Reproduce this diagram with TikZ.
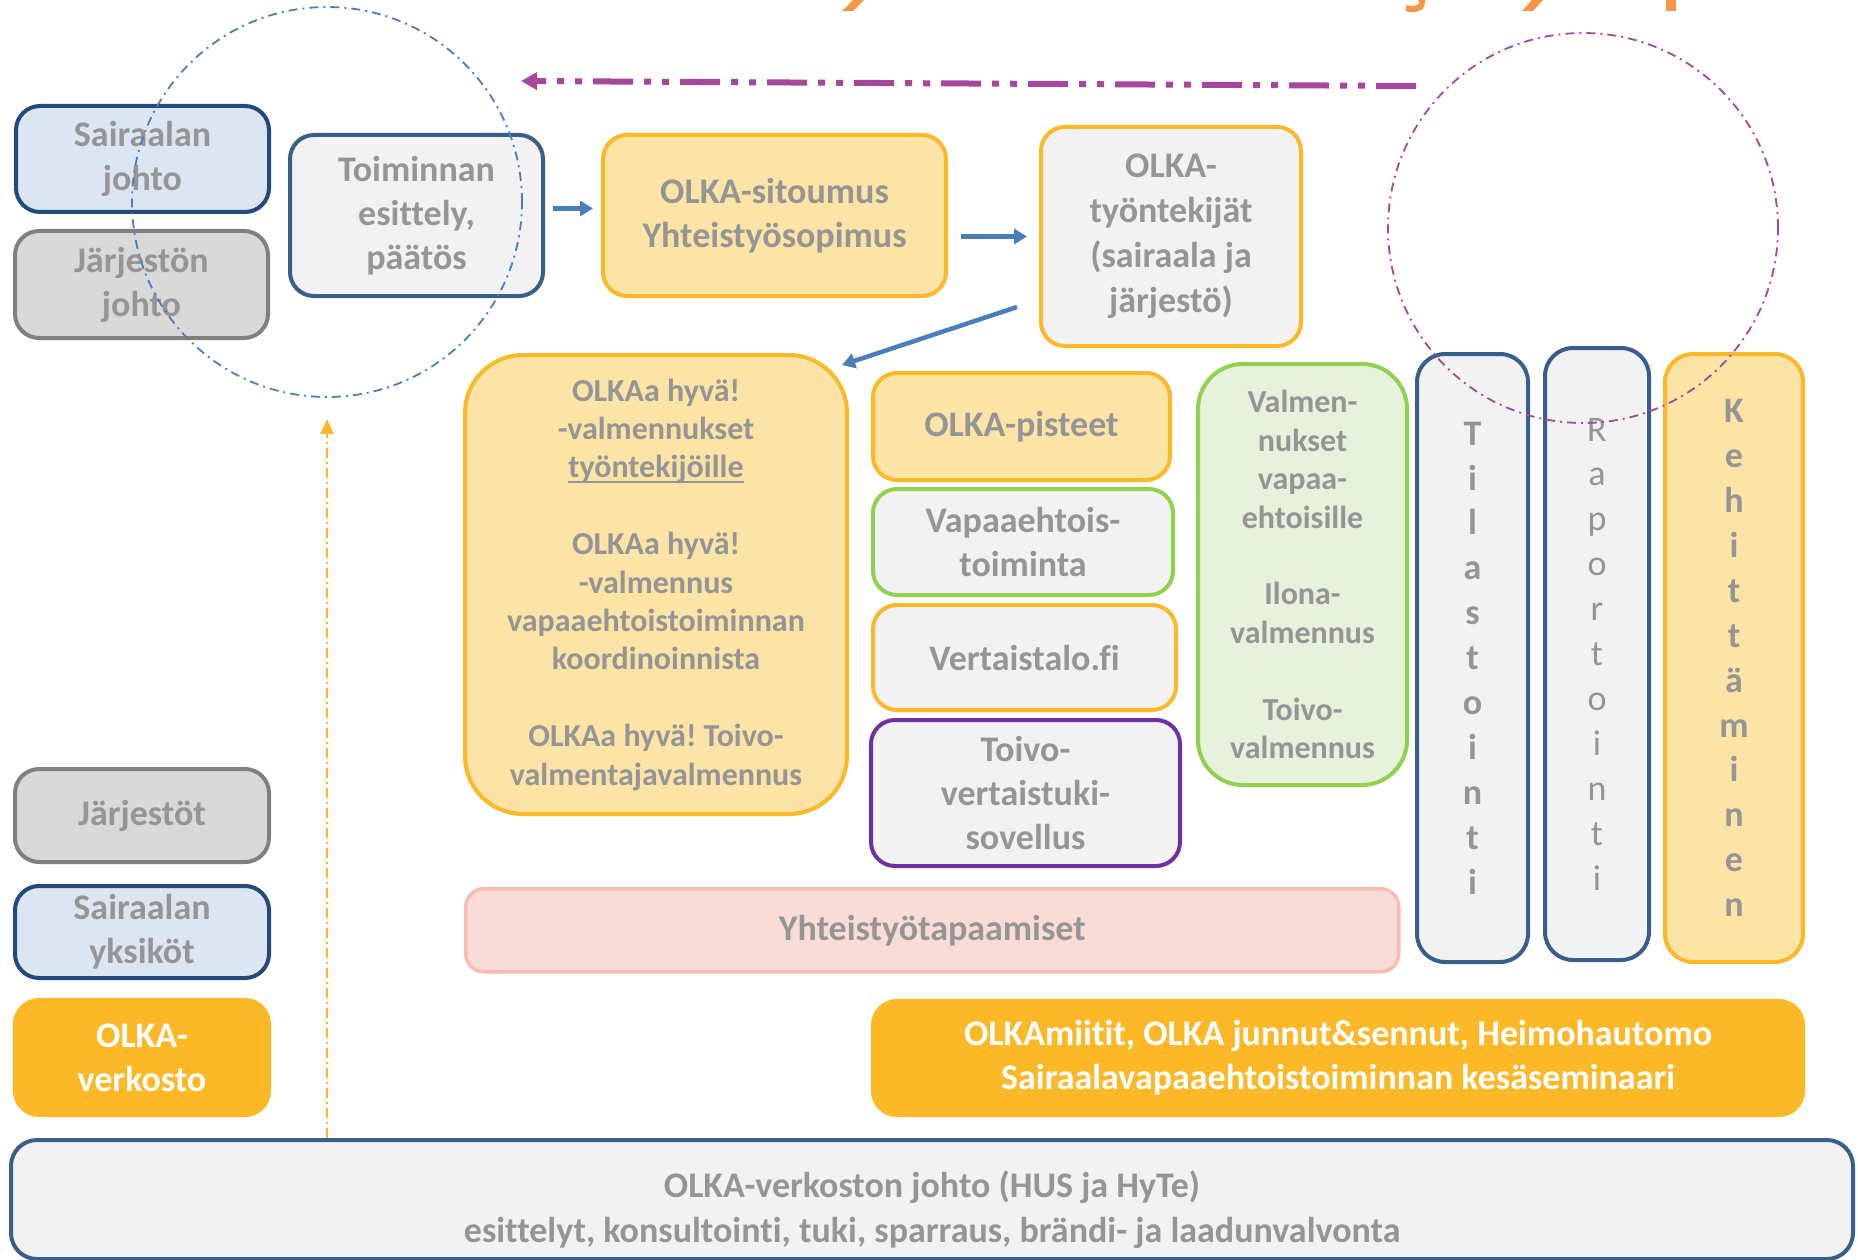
\documentclass[tikz,border=0pt]{standalone}
\usepackage{fontspec}
\setmainfont{Carlito}[Ligatures=NoCommon]
\usetikzlibrary{arrows.meta,calc}
\definecolor{txtgray}{HTML}{959595}
\definecolor{dblue}{HTML}{234A7C}
\definecolor{mblue}{HTML}{3A5E8C}
\definecolor{lblue}{HTML}{DCE6F2}
\definecolor{lgray}{HTML}{F2F2F2}
\definecolor{mgray}{HTML}{D9D9D9}
\definecolor{dgray}{HTML}{808080}
\definecolor{orng}{HTML}{FDB827}
\definecolor{lorng}{HTML}{FCE3A6}
\definecolor{grn}{HTML}{92D050}
\definecolor{lgrn}{HTML}{E6F2DC}
\definecolor{purp}{HTML}{7030A0}
\definecolor{pinkfill}{HTML}{FADCD6}
\definecolor{salmon}{HTML}{F8BCB2}
\definecolor{arrblue}{HTML}{4A7EBB}
\definecolor{mag}{HTML}{A5489B}
\definecolor{ttlorng}{HTML}{F79646}
\newcommand\myul[1]{\setbox0=\hbox{#1}\rlap{\rule[-5pt]{\wd0}{2pt}}\box0}
\frenchspacing
\begin{document}
\begin{tikzpicture}[x=1pt,y=-1pt,
  box/.style={draw, line width=4pt, rounded corners=24pt, align=center, inner sep=0pt,
    anchor=north west, text=txtgray, font=\bfseries\fontsize{36}{44}\selectfont},
  smalltxt/.style={font=\bfseries\fontsize{32}{38.4}\selectfont},
  vtxt/.style={font=\bfseries\fontsize{36}{44.9}\selectfont},
  bluebox/.style={box, fill=lblue, draw=dblue},
  graybox/.style={box, fill=mgray, draw=dgray},
  greyblue/.style={box, fill=lgray, draw=mblue},
  orbox/.style={box, fill=lorng, draw=orng},
  greyor/.style={box, fill=lgray, draw=orng},
  greygrn/.style={box, fill=lgray, draw=grn},
  solidor/.style={box, fill=orng, draw=orng, text=white},
  barrow/.style={draw=arrblue, line width=4.5pt, -{Triangle[length=13pt,width=15pt]}},
  oarrow/.style={draw=orng, line width=2pt, dash pattern=on 10pt off 4pt on 2pt off 4pt, -{Triangle[length=15pt,width=13pt]}},
  ttl/.style={ttlorng}
]
\useasboundingbox[fill=white] (0,0) rectangle (1858,1260);

% title fragments (cut off at the top)
\fill[ttl] (853,0) -- (864,0) -- (853,11) -- (842,11) -- cycle;
\draw[ttl, line width=6pt] (1422,0) -- (1422,3) .. controls (1422,9) and (1414,10) .. (1406,8);
\fill[ttl] (1532,0) -- (1543,0) -- (1533,11) -- (1522,11) -- cycle;
\fill[ttl] (1666,0) rectangle (1676,11);

% left column
\node[bluebox, minimum width=253, minimum height=106] (sj) at (14,104) {Sairaalan\\johto};
\node[graybox, minimum width=253, minimum height=107] (jj) at (13,229) {Järjestön\\johto};
\node[graybox, minimum width=254, minimum height=93] (jar) at (13,767) {Järjestöt};
\node[bluebox, minimum width=254, minimum height=92] (syk) at (13,884) {Sairaalan\\yksiköt};
\node[solidor, minimum width=254, minimum height=115] (verk) at (13,998) {OLKA-\\verkosto};

% top flow
\node[greyblue, minimum width=253, minimum height=161] (toim) at (288,133) {Toiminnan\\esittely,\\päätös};
\node[orbox, minimum width=343, minimum height=161] (sit) at (601,133) {OLKA-sitoumus\\Yhteistyösopimus};
\node[greyor, font=\bfseries\fontsize{36}{45}\selectfont, minimum width=260, minimum height=219] (tw) at (1039,125) {OLKA-\\työntekijät\\(sairaala ja\\järjestö)};

% middle
\node[orbox, smalltxt, rounded corners=58pt, minimum width=382, minimum height=459] (olka) at (463,353)
  {OLKAa hyvä!\\-valmennukset\\\myul{työntekijöille}\\[38.4pt]OLKAa hyvä!\\-valmennus\\vapaaehtoistoiminnan\\koordinoinnista\\[38.4pt]OLKAa hyvä! Toivo-\\valmentajavalmennus};
\node[orbox, minimum width=297, minimum height=107] (pist) at (871,371) {OLKA-pisteet};
\node[greygrn, minimum width=300, minimum height=106] (vap) at (871,487) {Vapaaehtois-\\toiminta};
\node[greyor, minimum width=303, minimum height=105] (vert) at (871,603) {Vertaistalo.fi};
\node[box, fill=lgray, draw=purp, minimum width=309, minimum height=146] (toivo) at (869,718) {Toivo-\\vertaistuki-\\sovellus};
\node[box, smalltxt, fill=lgrn, draw=grn, rounded corners=45pt, minimum width=209, minimum height=421] (grnb) at (1196,362)
  {Valmen-\\nukset\\vapaa-\\ehtoisille\\[38.4pt]Ilona-\\valmennus\\[38.4pt]Toivo-\\valmennus};

% vertical boxes
\node[greyblue, vtxt, rounded corners=28pt, minimum width=111, minimum height=608] (til) at (1415,352)
  {T\\i\\l\\a\\s\\t\\o\\i\\n\\t\\i};
\node[greyblue, vtxt, font=\mdseries\fontsize{36}{44.9}\selectfont, rounded corners=28pt, minimum width=104, minimum height=612] (rap) at (1543,346)
  {R\\a\\p\\o\\r\\t\\o\\i\\n\\t\\i};
\node[orbox, vtxt, rounded corners=28pt, minimum width=138, minimum height=608] (keh) at (1663,352)
  {K\\e\\h\\i\\t\\t\\ä\\m\\i\\n\\e\\n};

% lower band
\node[box, fill=pinkfill, draw=salmon, line width=3.5pt, rounded corners=18pt, minimum width=933, minimum height=83] (yht) at (464,887) {Yhteistyötapaamiset};
\node[solidor, minimum width=930, minimum height=114] (miit) at (871,999)
  {OLKAmiitit, OLKA junnut\&sennut, Heimohautomo\\Sairaalavapaaehtoistoiminnan kesäseminaari};
\node[greyblue, rounded corners=26pt, minimum width=1842, minimum height=119] (johto) at (9,1138) {};
\node[align=center, text=txtgray, font=\bfseries\fontsize{36}{45}\selectfont] (johtotxt) at ([yshift=-10pt]johto.center)
  {OLKA-verkoston johto (HUS ja HyTe)\\esittelyt, konsultointi, tuki, sparraus, brändi- ja laadunvalvonta};

% circles
\node[circle, draw=arrblue, line width=1.8pt, dash pattern=on 9pt off 5pt on 2pt off 5pt, minimum size=390, inner sep=0pt] (c1) at (327,202) {};
\node[circle, draw=mag, line width=1.8pt, dash pattern=on 9pt off 5pt on 2pt off 5pt, minimum size=390, inner sep=0pt] (c2) at (1583,228) {};

% connectors
\draw[barrow] ([xshift=8pt,yshift=7pt]toim.east) -- ([xshift=-8pt,yshift=7pt]sit.west);
\draw[barrow] ($(sit.east |- tw.west)+(13,0)$) -- ([xshift=-12pt]tw.west);
\draw[barrow] ([xshift=-22pt,yshift=41pt]tw.south west) -- ([xshift=-7pt,yshift=-12pt]olka.north east);
\draw[oarrow] (c1.south |- johto.north) -- ([yshift=-21pt]c1.south);
\coordinate (pr) at (1416,86);
\coordinate (pl) at (521,81);
\draw[mag, line width=6pt, dash pattern=on 40pt off 11pt on 7pt off 11pt on 7pt off 11pt, -{Triangle[length=16pt,width=17pt]}] (pr) -- (pl);
\end{tikzpicture}
\end{document}
